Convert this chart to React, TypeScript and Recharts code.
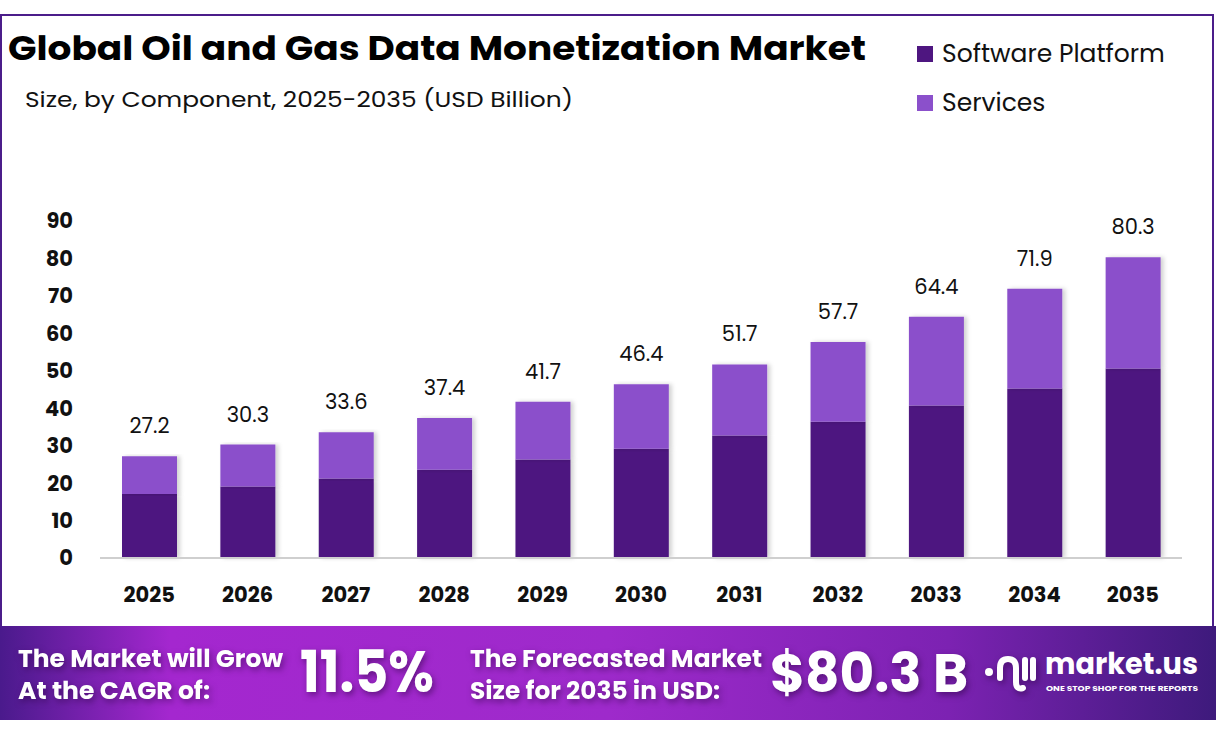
import React from "react"
import { BarChart, Bar, XAxis, YAxis, LabelList } from "recharts"

document.body.style.margin = "0"

const years = ["2025", "2026", "2027", "2028", "2029", "2030", "2031", "2032", "2033", "2034", "2035"]
const software = [17.1, 19.1, 21.2, 23.6, 26.3, 29.2, 32.7, 36.4, 40.7, 45.3, 50.6]
const services = [10.1, 11.2, 12.4, 13.8, 15.4, 17.2, 19.0, 21.3, 23.7, 26.6, 29.7]
const totals = [27.2, 30.3, 33.6, 37.4, 41.7, 46.4, 51.7, 57.7, 64.4, 71.9, 80.3]
const yTicks = [0, 10, 20, 30, 40, 50, 60, 70, 80, 90]

const data = years.map((year, i) => ({
  year,
  software: software[i],
  services: services[i],
  total: totals[i],
}))

const FONT = "Poppins, Inter, 'Open Sans', sans-serif"
const DARK = "#4e1680"
const LIGHT = "#8b50cb"

function TotalLabel(props: any) {
  const { x, y, width, index } = props
  return (
    <text x={x + width / 2} y={y - 23} textAnchor="middle" fontSize={21} fontFamily={FONT} fill="#111">
      {totals[index]}
    </text>
  )
}

// legend sits in the top-right corner, outside the chart's layout
function LegendBox() {
  const items = [
    { label: "Software Platform", color: DARK },
    { label: "Services", color: LIGHT },
  ]
  return (
    <div style={{ position: "absolute", left: 917, top: 29 }}>
      {items.map((it) => (
        <div key={it.label} style={{ display: "flex", alignItems: "center", height: 49 }}>
          <div style={{ width: 16, height: 16, background: it.color, marginRight: 9 }} />
          <span style={{ fontFamily: FONT, fontSize: 25, color: "#111" }}>{it.label}</span>
        </div>
      ))}
    </div>
  )
}

function Banner() {
  const shadow = "drop-shadow(2px 3px 3px rgba(40,0,60,0.5))"
  return (
    <svg width={1216} height={94} style={{ position: "absolute", left: 0, top: 626 }}>
      <defs>
        <linearGradient id="bg" x1="0" x2="1" y1="0" y2="0">
          <stop offset="0%" stopColor="#4a1a8c" />
          <stop offset="14%" stopColor="#a427cf" />
          <stop offset="50%" stopColor="#9e2acb" />
          <stop offset="78%" stopColor="#7c22b2" />
          <stop offset="100%" stopColor="#3e1a7c" />
        </linearGradient>
      </defs>
      <rect x={0} y={0} width={1216} height={94} fill="url(#bg)" />
      <g fill="#fff" fontFamily={FONT} fontWeight={700} style={{ filter: shadow }}>
        <text x={18} y={41} fontSize={24} textLength={265} lengthAdjust="spacingAndGlyphs">The Market will Grow</text>
        <text x={18} y={73} fontSize={24} textLength={192} lengthAdjust="spacingAndGlyphs">At the CAGR of:</text>
        <text x={300} y={66} fontSize={58} textLength={134} lengthAdjust="spacingAndGlyphs">11.5%</text>
        <text x={470} y={41} fontSize={24} textLength={292} lengthAdjust="spacingAndGlyphs">The Forecasted Market</text>
        <text x={470} y={73} fontSize={24} textLength={250} lengthAdjust="spacingAndGlyphs">Size for 2035 in USD:</text>
        <text x={770} y={66} fontSize={54} textLength={198} lengthAdjust="spacingAndGlyphs">$80.3 B</text>
      </g>
      <g fill="none" stroke="#fff" strokeWidth={6} strokeLinecap="round" style={{ filter: shadow }}>
        <circle cx={989} cy={46} r={4} fill="#fff" stroke="none" />
        <path d="M1000 52 L1000 42 Q1000 33 1008 33 Q1016 33 1016 42 L1016 56 Q1016 64 1023 62" />
        <path d="M1025 34 L1025 52" />
        <path d="M1033 34 L1033 52" />
      </g>
      <g fill="#fff" fontFamily={FONT} fontWeight={700}>
        <text x={1045} y={48} fontSize={29} textLength={153} lengthAdjust="spacingAndGlyphs">market.us</text>
        <text x={1046} y={65} fontSize={7} textLength={152} lengthAdjust="spacingAndGlyphs">ONE STOP SHOP FOR THE REPORTS</text>
      </g>
    </svg>
  )
}

export default function App() {
  return (
    <div style={{ position: "relative", width: 1216, height: 738, background: "#fff", overflow: "hidden" }}>
      <div
        style={{
          position: "absolute",
          left: 0,
          top: 14,
          width: 1210,
          height: 610,
          border: "2px solid #4b1d8a",
        }}
      />
      <svg width={900} height={130} style={{ position: "absolute", left: 0, top: 0 }}>
        <text x={8} y={60} fontFamily={FONT} fontWeight={700} fontSize={34} fill="#000" textLength={858} lengthAdjust="spacingAndGlyphs">
          Global Oil and Gas Data Monetization Market
        </text>
        <text x={25} y={107} fontFamily={FONT} fontSize={22} fill="#111" textLength={548} lengthAdjust="spacingAndGlyphs">
          Size, by Component, 2025-2035 (USD Billion)
        </text>
      </svg>
      <LegendBox />
      <div style={{ position: "absolute", left: 0, top: 0 }}>
        <BarChart width={1216} height={620} data={data} margin={{ top: 221, right: 34, bottom: 12, left: 0 }}>
          <defs>
            <filter id="barShadow" x="-20%" y="-5%" width="140%" height="110%">
              <feDropShadow dx="3" dy="0" stdDeviation="2" floodColor="#000" floodOpacity="0.18" />
            </filter>
          </defs>
          <XAxis
            dataKey="year"
            height={50}
            tickLine={false}
            tickSize={0}
            tickMargin={29}
            axisLine={{ stroke: "#cfcfcf", strokeWidth: 2 }}
            tick={{ fill: "#111", fontSize: 21, fontWeight: 700, fontFamily: FONT }}
          />
          <YAxis
            width={100}
            domain={[0, 90]}
            ticks={yTicks}
            interval={0}
            axisLine={false}
            tickLine={false}
            tickSize={0}
            tickMargin={27}
            tick={{ fill: "#111", fontSize: 21, fontWeight: 700, fontFamily: FONT }}
          />
          <Bar dataKey="software" stackId="a" fill={DARK} barSize={55} isAnimationActive={false} filter="url(#barShadow)" />
          <Bar dataKey="services" stackId="a" fill={LIGHT} barSize={55} isAnimationActive={false} filter="url(#barShadow)">
            <LabelList dataKey="total" content={<TotalLabel />} />
          </Bar>
        </BarChart>
      </div>
      <Banner />
    </div>
  )
}
